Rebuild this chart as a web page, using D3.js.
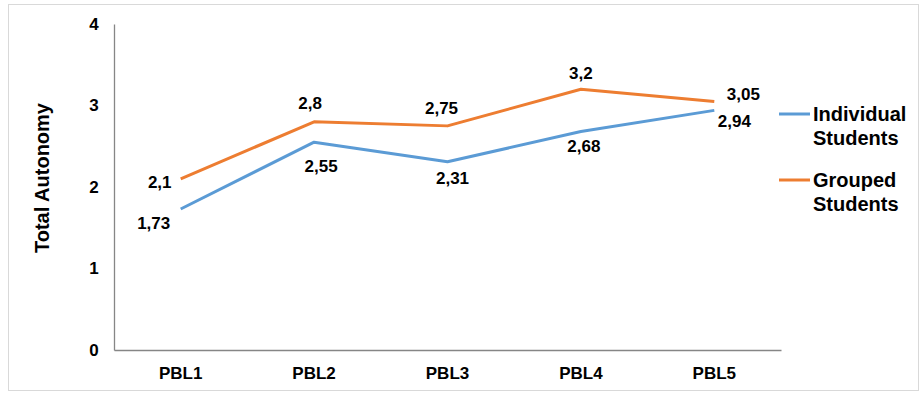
<!DOCTYPE html>
<html>
<head>
<meta charset="utf-8">
<script src="https://cdn.jsdelivr.net/npm/d3@7"></script>
<style>
  html, body { margin: 0; padding: 0; background: #fff; }
  svg { display: block; font-family: "Liberation Sans", Arial, sans-serif; }
</style>
</head>
<body>
<svg id="chart" width="922" height="394"></svg>
<script>
// Categories and series
const categories = ["PBL1", "PBL2", "PBL3", "PBL4", "PBL5"];
const individualValues = [1.73, 2.55, 2.31, 2.68, 2.94];
const groupedValues = [2.1, 2.8, 2.75, 3.2, 3.05];
const yTicks = [0, 1, 2, 3, 4];
const seriesNames = [["Individual", "Students"], ["Grouped", "Students"]];
const axisTitle = "Total Autonomy";

// Label placement around each point (dx, dy of label centre)
const individualLabelOffsets = [[-27, 14], [7, 24], [5, 16], [3, 14], [20, 11]];
const groupedLabelOffsets = [[-21, 3], [-4, -19], [-6, -18], [0, -16], [29, -7]];

const svg = d3.select("#chart");

// outer frame
svg.append("rect")
  .attr("x", 8.5).attr("y", 4.5)
  .attr("width", 910).attr("height", 386)
  .attr("fill", "#fff").attr("stroke", "#d9d9d9").attr("stroke-width", 1);

const plot = { left: 114, right: 781, top: 24, bottom: 350 };

const x = d3.scaleBand().domain(categories).range([plot.left, plot.right]);
const y = d3.scaleLinear().domain([0, 4]).range([plot.bottom, plot.top]);

const cx = c => x(c) + x.bandwidth() / 2;

// axes
const yAxis = d3.axisLeft(y).tickValues(yTicks).tickSize(0).tickPadding(13).tickFormat(d3.format("d"));
const gy = svg.append("g").attr("transform", `translate(${plot.left},0)`).call(yAxis);
gy.select(".domain").attr("stroke", "#868686").attr("stroke-width", 1.3);
gy.selectAll("text")
  .attr("font-size", 17).attr("font-weight", "bold").attr("fill", "#000")
  .attr("font-family", "'Liberation Sans', Arial, sans-serif")
  .attr("text-anchor", "middle")
  .attr("x", -20);

const xAxis = d3.axisBottom(x).tickSize(0).tickPadding(17);
const gx = svg.append("g").attr("transform", `translate(0,${plot.bottom})`).call(xAxis);
gx.select(".domain").attr("stroke", "#868686").attr("stroke-width", 1.3);
gx.selectAll("text")
  .attr("font-size", 17).attr("font-weight", "bold").attr("fill", "#000")
  .attr("font-family", "'Liberation Sans', Arial, sans-serif");

// axis title
svg.append("text")
  .attr("transform", `translate(42,178) rotate(-90)`)
  .attr("text-anchor", "middle")
  .attr("dy", "0.35em")
  .attr("font-size", 20).attr("font-weight", "bold").attr("fill", "#000")
  .text(axisTitle);

const series = [
  { values: individualValues, color: "#5B9BD5", offsets: individualLabelOffsets, name: seriesNames[0] },
  { values: groupedValues, color: "#ED7D31", offsets: groupedLabelOffsets, name: seriesNames[1] }
];

const line = d3.line().x(d => cx(d.c)).y(d => y(d.v));

series.forEach(s => {
  const pts = categories.map((c, i) => ({ c, v: s.values[i], i }));
  svg.append("path")
    .datum(pts)
    .attr("d", line)
    .attr("fill", "none")
    .attr("stroke", s.color)
    .attr("stroke-width", 3)
    .attr("stroke-linejoin", "round");

  svg.append("g").selectAll("text")
    .data(pts)
    .join("text")
    .attr("x", d => cx(d.c) + s.offsets[d.i][0])
    .attr("y", d => y(d.v) + s.offsets[d.i][1])
    .attr("dy", "0.35em")
    .attr("text-anchor", "middle")
    .attr("font-size", 17).attr("font-weight", "bold").attr("fill", "#000")
    .text(d => String(d.v).replace(".", ","));
});

// legend
const legend = svg.append("g");
series.forEach((s, i) => {
  const ly = 114 + i * 66;
  legend.append("line")
    .attr("x1", 779).attr("x2", 810)
    .attr("y1", ly).attr("y2", ly)
    .attr("stroke", s.color).attr("stroke-width", 3);
  const t = legend.append("text")
    .attr("x", 813).attr("y", ly)
    .attr("font-size", 20).attr("font-weight", "bold").attr("fill", "#000");
  s.name.forEach((w, j) => {
    t.append("tspan").attr("x", 813).attr("y", ly + j * 24).attr("dy", "0.35em").text(w);
  });
});
</script>
</body>
</html>
